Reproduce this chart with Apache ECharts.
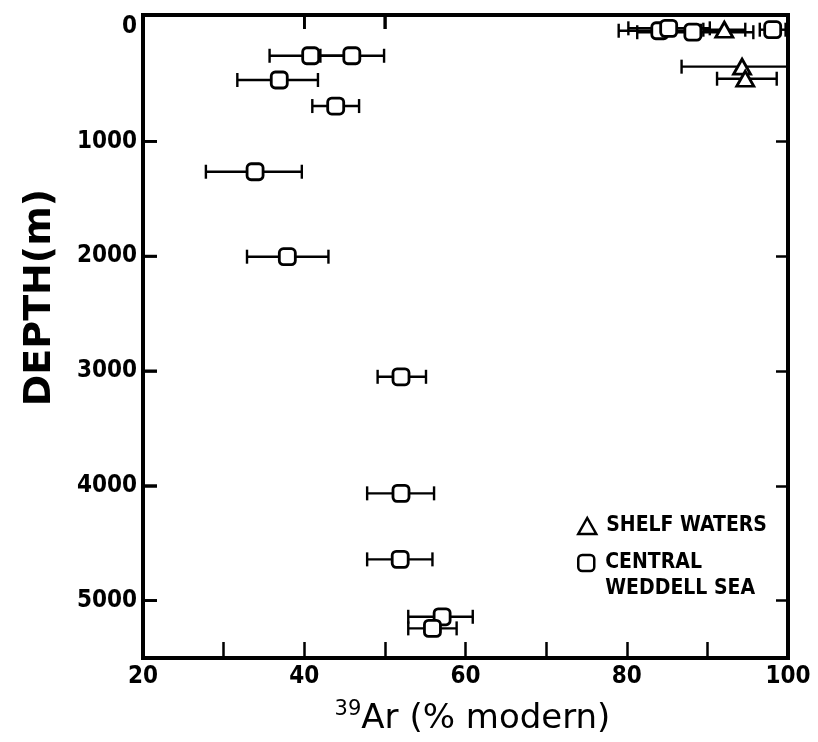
<!DOCTYPE html>
<html>
<head>
<meta charset="utf-8">
<script src="https://cdn.jsdelivr.net/npm/echarts@6/dist/echarts.min.js"></script>
<style>
  html, body { margin: 0; padding: 0; background: #fff; }
  #chart { width: 818px; height: 742px; }
</style>
</head>
<body>
<div id="chart"></div>
<script>
// 39Ar activity (% modern) against depth, shelf waters and central Weddell Sea

// axis ticks and labels
const xTickValues = [30, 40, 50, 60, 70, 80, 90];
const xLabelValues = [20, 40, 60, 80, 100];
const xTopTickValues = [40, 50];
const depthTickValues = [1000, 2000, 3000, 4000, 5000];
const depthLabelValues = [0, 1000, 2000, 3000, 4000, 5000];

// shelf waters: value, depth (m), error bar low / high
const shelfAr = [92.1, 94.3, 94.7];
const shelfDepth = [28, 350, 455];
const shelfLo = [89.5, 86.8, 91.2];
const shelfHi = [94.7, 100, 98.6];

// central Weddell Sea: value, depth (m), error bar low / high
const weddellAr = [84.1, 85.2, 88.2, 98.1, 40.8, 45.9, 36.9, 43.9, 33.9, 37.9, 52.0, 52.0, 51.9, 57.1, 55.9];
const weddellDepth = [37, 16, 50, 28, 255, 255, 466, 693, 1265, 2005, 3051, 4066, 4641, 5141, 5242];
const weddellLo = [79.0, 80.2, 81.3, 96.5, 35.7, 42.0, 31.7, 41.0, 27.8, 32.9, 49.1, 47.8, 47.8, 52.9, 52.9];
const weddellHi = [89.2, 90.3, 95.7, 99.7, 46.0, 49.9, 41.7, 46.8, 39.7, 43.0, 55.1, 56.1, 55.9, 60.9, 58.9];

const X_MIN = 20, X_MAX = 100;
const DEPTH_MIN = -100, DEPTH_MAX = 5500;

const NUM_FONT = "'DejaVu Sans Condensed', 'DejaVu Sans', sans-serif";
const LEGEND_FONT = "'DejaVu Sans Condensed', 'DejaVu Sans', sans-serif";
const TITLE_FONT = "'DejaVu Sans', sans-serif";
const INK = '#000';

function rows(ar, depth, lo, hi) {
  return ar.map((v, i) => [v, depth[i], lo[i], hi[i]]);
}

function errorBar(params, api) {
  const d = api.value(1);
  const a = api.coord([api.value(2), d]);
  const b = api.coord([api.value(3), d]);
  const cap = 7;
  const st = { stroke: INK, lineWidth: 2.4 };
  return {
    type: 'group',
    children: [
      { type: 'line', shape: { x1: a[0], y1: a[1], x2: b[0], y2: b[1] }, style: st },
      { type: 'line', shape: { x1: a[0], y1: a[1] - cap, x2: a[0], y2: a[1] + cap }, style: st },
      { type: 'line', shape: { x1: b[0], y1: b[1] - cap, x2: b[0], y2: b[1] + cap }, style: st }
    ]
  };
}

// inward frame ticks placed through the axis scales: dx/dy give the tick direction
function frameTick(dx, dy) {
  return function (params, api) {
    const p = api.coord([api.value(0), api.value(1)]);
    return {
      type: 'line',
      shape: { x1: p[0], y1: p[1], x2: p[0] + dx, y2: p[1] + dy },
      style: { stroke: INK, lineWidth: 2.5 }
    };
  };
}

function tick(values, length) {
  return { show: true, inside: true, length: length, lineStyle: { color: INK, width: 2.5 }, customValues: values.slice() };
}
function noLine() {
  return { show: false, onZero: false };
}

const markerStyle = { color: '#fff', borderColor: INK, borderWidth: 2.8, opacity: 1 };

const chart = echarts.init(document.getElementById('chart'));
chart.setOption({
  animation: false,
  grid: {
    left: 143, right: 30, top: 15, bottom: 84,
    show: true, borderWidth: 4, borderColor: INK
  },
  xAxis: [
    {
      type: 'value', min: X_MIN, max: X_MAX, interval: 10, position: 'bottom',
      axisLine: noLine(),
      splitLine: { show: false },
      axisTick: tick(xTickValues, 16),
      axisLabel: { customValues: xLabelValues.slice(), color: INK, fontFamily: NUM_FONT, fontWeight: 'bold', fontSize: 24, margin: 7 },
      name: '{sup|39}{main|Ar (% modern)}',
      nameLocation: 'middle',
      nameGap: 41,
      nameTextStyle: {
        padding: [0, 0, 0, 14],
        rich: {
          sup: { fontFamily: TITLE_FONT, fontSize: 21, color: INK, verticalAlign: 'top', lineHeight: 40 },
          main: { fontFamily: TITLE_FONT, fontSize: 34, color: INK, lineHeight: 40 }
        }
      }
    },
    {
      type: 'value', min: X_MIN, max: X_MAX, interval: 10, position: 'top',
      axisLine: noLine(),
      splitLine: { show: false },
      axisLabel: { show: false },
      axisTick: tick(xTopTickValues, 14)
    }
  ],
  yAxis: [
    {
      type: 'value', inverse: true, min: DEPTH_MIN, max: DEPTH_MAX, position: 'left',
      axisLine: noLine(),
      splitLine: { show: false },
      axisTick: tick(depthTickValues, 14),
      axisLabel: {
        customValues: depthLabelValues.slice(), formatter: (v) => String(v),
        color: INK, fontFamily: NUM_FONT, fontWeight: 'bold', fontSize: 24, margin: 6
      },
      name: 'DEPTH(m)',
      nameLocation: 'middle',
      nameGap: 84,
      nameTextStyle: { fontFamily: TITLE_FONT, fontWeight: 'bold', fontSize: 38, color: INK, padding: [0, 0, 0, 78] }
    },
    {
      type: 'value', inverse: true, min: DEPTH_MIN, max: DEPTH_MAX, position: 'right',
      axisLine: noLine(),
      splitLine: { show: false },
      axisLabel: { show: false },
      axisTick: tick(depthTickValues, 12)
    }
  ],
  legend: [
    {
      data: [{ name: 'SHELF WATERS', icon: 'triangle' }],
      left: 577, top: 513, padding: 0,
      itemWidth: 18, itemHeight: 16,
      itemStyle: { color: '#fff', borderColor: INK, borderWidth: 2.5 },
      textStyle: { fontFamily: LEGEND_FONT, fontWeight: 'bold', fontSize: 21, color: INK, lineHeight: 26, padding: [0, 0, 0, 5] },
      selectedMode: false
    },
    {
      data: [{ name: 'CENTRAL WEDDELL SEA', icon: 'roundRect' }],
      formatter: () => '\u00a0\nCENTRAL\nWEDDELL SEA',
      left: 577, top: 524, padding: 0,
      itemWidth: 16, itemHeight: 16,
      itemStyle: { color: '#fff', borderColor: INK, borderWidth: 2.5 },
      textStyle: { fontFamily: LEGEND_FONT, fontWeight: 'bold', fontSize: 21, color: INK, lineHeight: 26, padding: [0, 0, 0, 6] },
      selectedMode: false
    }
  ],
  series: [
    {
      type: 'custom', renderItem: frameTick(14, 0), silent: true, clip: false,
      data: depthTickValues.map((d) => [X_MIN, d]),
      encode: { x: 0, y: 1 }, z: 20, zlevel: 1
    },
    {
      type: 'custom', renderItem: frameTick(0, 14), silent: true, clip: false,
      data: xTopTickValues.map((v) => [v, DEPTH_MIN]),
      encode: { x: 0, y: 1 }, z: 20, zlevel: 1
    },
    {
      name: 'SHELF WATERS', type: 'custom', renderItem: errorBar,
      data: rows(shelfAr, shelfDepth, shelfLo, shelfHi),
      encode: { x: [0, 2, 3], y: 1 }, z: 2, clip: true
    },
    {
      name: 'CENTRAL WEDDELL SEA', type: 'custom', renderItem: errorBar,
      data: rows(weddellAr, weddellDepth, weddellLo, weddellHi),
      encode: { x: [0, 2, 3], y: 1 }, z: 2, clip: true
    },
    {
      name: 'SHELF WATERS', type: 'scatter', symbol: 'triangle', symbolSize: [17, 15],
      data: shelfAr.map((v, i) => [v, shelfDepth[i]]),
      itemStyle: markerStyle, z: 3
    },
    {
      name: 'CENTRAL WEDDELL SEA', type: 'scatter', symbol: 'roundRect', symbolSize: 16,
      data: weddellAr.map((v, i) => [v, weddellDepth[i]]),
      itemStyle: markerStyle, z: 3
    }
  ]
});

// left and top frame ticks, positioned by converting axis values to pixels
const frameTickLines = [];
depthTickValues.forEach(function (d) {
  const p = chart.convertToPixel({ xAxisIndex: 0, yAxisIndex: 0 }, [X_MIN, d]);
  frameTickLines.push({
    type: 'line', zlevel: 2, z: 100, silent: true,
    shape: { x1: p[0], y1: p[1], x2: p[0] + 14, y2: p[1] },
    style: { stroke: INK, lineWidth: 2.5 }
  });
});
xTopTickValues.forEach(function (v) {
  const p = chart.convertToPixel({ xAxisIndex: 0, yAxisIndex: 0 }, [v, DEPTH_MIN]);
  frameTickLines.push({
    type: 'line', zlevel: 2, z: 100, silent: true,
    shape: { x1: p[0], y1: p[1], x2: p[0], y2: p[1] + 14 },
    style: { stroke: INK, lineWidth: 2.5 }
  });
});
chart.setOption({ graphic: frameTickLines });
</script>
</body>
</html>
